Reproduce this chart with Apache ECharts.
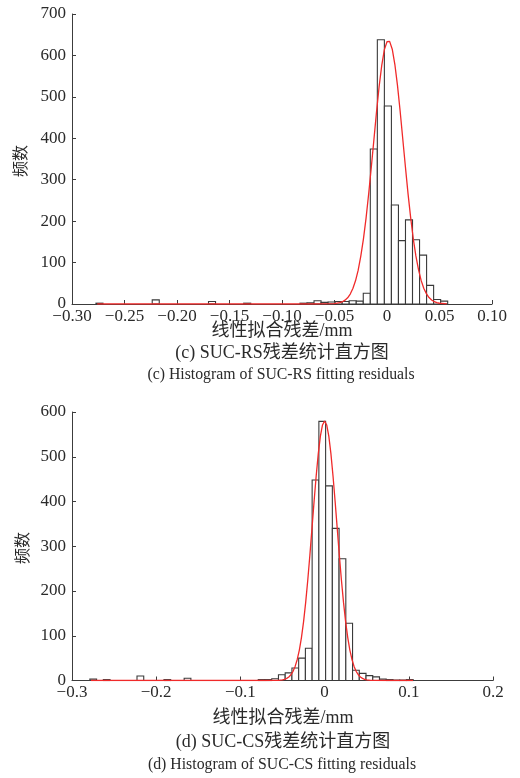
<!DOCTYPE html>
<html>
<head>
<meta charset="utf-8">
<script src="https://cdn.jsdelivr.net/npm/echarts@6/dist/echarts.min.js"></script>
<style>
html,body{margin:0;padding:0;background:#fff;}
#chart{width:520px;height:778px;}
</style>
</head>
<body>
<div id="chart"></div>
<script>
// ---------- Chart (c): SUC-RS ----------
const topBinWidth = 0.0067;
const topBinCenters = [-0.27385, -0.22025, -0.16665, -0.13315, -0.07955, -0.07285, -0.06615, -0.05945, -0.05275, -0.04605, -0.03935, -0.03265, -0.02595, -0.01925, -0.01255, -0.00585, 0.00085, 0.00755, 0.01425, 0.02095, 0.02765, 0.03435, 0.04105, 0.04775, 0.05445];
const topBinCounts  = [2, 10, 6, 2, 2, 3, 8, 4, 5, 6, 6, 8, 7, 26, 374, 638, 478, 239, 153, 203, 155, 118, 45, 11, 7];
const topCurveX = [-0.276, -0.07, -0.06, -0.05, -0.045, -0.0425, -0.04, -0.0375, -0.035, -0.0325, -0.03, -0.0275, -0.025, -0.0225, -0.02, -0.0175, -0.015, -0.0125, -0.01, -0.0075, -0.005, -0.0025, 0, 0.0013, 0.0025, 0.005, 0.0075, 0.01, 0.0125, 0.015, 0.0175, 0.02, 0.0225, 0.025, 0.0275, 0.03, 0.0325, 0.035, 0.0375, 0.04, 0.0425, 0.045, 0.0475, 0.05, 0.057];
const topCurveY = [0, 0, 0.1, 0.9, 3.1, 5.5, 9.3, 15, 24, 37.5, 56, 81, 115, 156, 206, 265, 329, 396, 463, 525, 576, 614, 633, 636, 634, 615, 578, 527, 466, 399, 332, 267, 209, 158, 116, 83, 57, 38, 25, 15.5, 9.5, 5.6, 3.2, 1.8, 0.3];
const topXTicks = [-0.30, -0.25, -0.20, -0.15, -0.10, -0.05, 0, 0.05, 0.10];
const topXTickLabels = ['\u22120.30', '\u22120.25', '\u22120.20', '\u22120.15', '\u22120.10', '\u22120.05', '0', '0.05', '0.10'];
const topYTicks = [0, 100, 200, 300, 400, 500, 600, 700];
const topYTickLabels = ['0', '100', '200', '300', '400', '500', '600', '700'];

// ---------- Chart (d): SUC-CS ----------
const botBinWidth = 0.008;
const botBinCenters = [-0.2748, -0.2588, -0.2188, -0.1868, -0.1628, -0.0748, -0.0668, -0.0588, -0.0508, -0.0428, -0.0348, -0.0268, -0.0188, -0.0108, -0.0028, 0.0052, 0.0132, 0.0212, 0.0292, 0.0372, 0.0452, 0.0532, 0.0612, 0.0692, 0.0772, 0.0852, 0.0932, 0.1012];
const botBinCounts  = [3, 2, 10, 2, 5, 2, 2, 4, 13, 17, 28, 50, 72, 448, 579, 435, 340, 272, 128, 23, 16, 11, 8, 3, 2, 1, 1, 2];
const botCurveX = [-0.2775, -0.07, -0.06, -0.055, -0.05, -0.0475, -0.045, -0.0425, -0.04, -0.0375, -0.035, -0.0325, -0.03, -0.0275, -0.025, -0.0225, -0.02, -0.0175, -0.015, -0.0125, -0.01, -0.0075, -0.005, -0.0025, 0, 0.0025, 0.005, 0.0075, 0.01, 0.0125, 0.015, 0.0175, 0.02, 0.0225, 0.025, 0.0275, 0.03, 0.0325, 0.035, 0.0375, 0.04, 0.0425, 0.045, 0.0475, 0.05, 0.055, 0.06, 0.07, 0.105];
const botCurveY = [0, 0, 0.1, 0.4, 1.5, 2.7, 4.7, 7.9, 12.9, 20.5, 31.5, 47, 68, 96, 131, 174, 224, 280, 340, 400, 457, 507, 546, 571, 580, 571, 546, 507, 457, 400, 340, 280, 224, 174, 131, 96, 68, 47, 31.5, 20.5, 12.9, 7.9, 4.7, 2.7, 1.5, 0.4, 0.1, 0, 0];
const botXTicks = [-0.3, -0.2, -0.1, 0, 0.1, 0.2];
const botXTickLabels = ['\u22120.3', '\u22120.2', '\u22120.1', '0', '0.1', '0.2'];
const botYTicks = [0, 100, 200, 300, 400, 500, 600];
const botYTickLabels = ['0', '100', '200', '300', '400', '500', '600'];

// ---------- Texts ----------
const xLabelText = '线性拟合残差/mm';
const yLabelText = '频数';
const topCaptionCn = '(c) SUC-RS残差统计直方图';
const topCaptionEn = '(c) Histogram of SUC-RS fitting residuals';
const botCaptionCn = '(d) SUC-CS残差统计直方图';
const botCaptionEn = '(d) Histogram of SUC-CS fitting residuals';

// ---------- Build ----------
const FONT = '"Liberation Serif", "Times New Roman", "Noto Sans CJK SC", serif';
const AXIS_COLOR = '#3c3c3c';
const TEXT_COLOR = '#2a2a2a';

function lookupLabel(ticks, labels) {
  return function (v) {
    for (let i = 0; i < ticks.length; i++) {
      if (Math.abs(ticks[i] - v) < 1e-9) return labels[i];
    }
    return '';
  };
}

function histRender(bw) {
  return function (params, api) {
    const c = api.value(0), v = api.value(1);
    const p0 = api.coord([c - bw / 2, v]);
    const p1 = api.coord([c + bw / 2, 0]);
    return {
      type: 'rect',
      shape: { x: p0[0], y: p0[1], width: p1[0] - p0[0], height: p1[1] - p0[1] },
      style: { fill: '#ffffff', stroke: '#3a3a3a', lineWidth: 1.1 }
    };
  };
}

function xAxisCfg(gi, min, max, interval, ticks, labels) {
  return {
    type: 'value', gridIndex: gi, min: min, max: max, interval: interval,
    axisLine: { show: true, onZero: false, lineStyle: { color: AXIS_COLOR, width: 1 } },
    axisTick: { show: true, inside: true, length: 4, lineStyle: { color: AXIS_COLOR } },
    axisLabel: { color: TEXT_COLOR, fontFamily: FONT, fontSize: 17, margin: 4, formatter: lookupLabel(ticks, labels) },
    splitLine: { show: false }
  };
}
function yAxisCfg(gi, max, ticks, labels) {
  return {
    type: 'value', gridIndex: gi, min: 0, max: max, interval: 100,
    axisLine: { show: true, onZero: false, lineStyle: { color: AXIS_COLOR, width: 1 } },
    axisTick: { show: true, inside: true, length: 4, lineStyle: { color: AXIS_COLOR } },
    axisLabel: { color: TEXT_COLOR, fontFamily: FONT, fontSize: 17, margin: 6, formatter: lookupLabel(ticks, labels) },
    splitLine: { show: false }
  };
}

function txt(text, x, y, size, rot) {
  return {
    type: 'text', x: x, y: y, rotation: rot || 0,
    style: { text: text, fontSize: size, fontFamily: FONT, fill: TEXT_COLOR, align: 'center', verticalAlign: 'middle' }
  };
}

const chart = echarts.init(document.getElementById('chart'), null, { renderer: 'canvas' });
chart.setOption({
  animation: false,
  backgroundColor: '#ffffff',
  grid: [
    { left: 72, top: 14, width: 420, height: 290 },
    { left: 72, top: 412, width: 421, height: 268.5 }
  ],
  xAxis: [
    xAxisCfg(0, -0.30, 0.10, 0.05, topXTicks, topXTickLabels),
    xAxisCfg(1, -0.3, 0.2, 0.1, botXTicks, botXTickLabels)
  ],
  yAxis: [
    yAxisCfg(0, 700, topYTicks, topYTickLabels),
    yAxisCfg(1, 600, botYTicks, botYTickLabels)
  ],
  series: [
    {
      type: 'custom', xAxisIndex: 0, yAxisIndex: 0, z: 2,
      renderItem: histRender(topBinWidth),
      encode: { x: 0, y: 1 },
      data: topBinCenters.map((c, i) => [c, topBinCounts[i]])
    },
    {
      type: 'line', xAxisIndex: 0, yAxisIndex: 0, z: 3,
      smooth: false, showSymbol: false, symbol: 'none',
      lineStyle: { color: '#f02a2a', width: 1.3 },
      data: topCurveX.map((x, i) => [x, topCurveY[i]])
    },
    {
      type: 'custom', xAxisIndex: 1, yAxisIndex: 1, z: 2,
      renderItem: histRender(botBinWidth),
      encode: { x: 0, y: 1 },
      data: botBinCenters.map((c, i) => [c, botBinCounts[i]])
    },
    {
      type: 'line', xAxisIndex: 1, yAxisIndex: 1, z: 3,
      smooth: false, showSymbol: false, symbol: 'none',
      lineStyle: { color: '#f02a2a', width: 1.3 },
      data: botCurveX.map((x, i) => [x, botCurveY[i]])
    }
  ],
  graphic: [
    txt(xLabelText, 282, 331, 18),
    txt(topCaptionCn, 282, 353, 18),
    txt(topCaptionEn, 281, 375, 15.8),
    txt(yLabelText, 22, 161, 16, Math.PI / 2),
    txt(xLabelText, 283, 718, 18),
    txt(botCaptionCn, 283, 742, 18),
    txt(botCaptionEn, 282, 765, 15.8),
    txt(yLabelText, 24, 548, 16, Math.PI / 2)
  ]
});
</script>
</body>
</html>
